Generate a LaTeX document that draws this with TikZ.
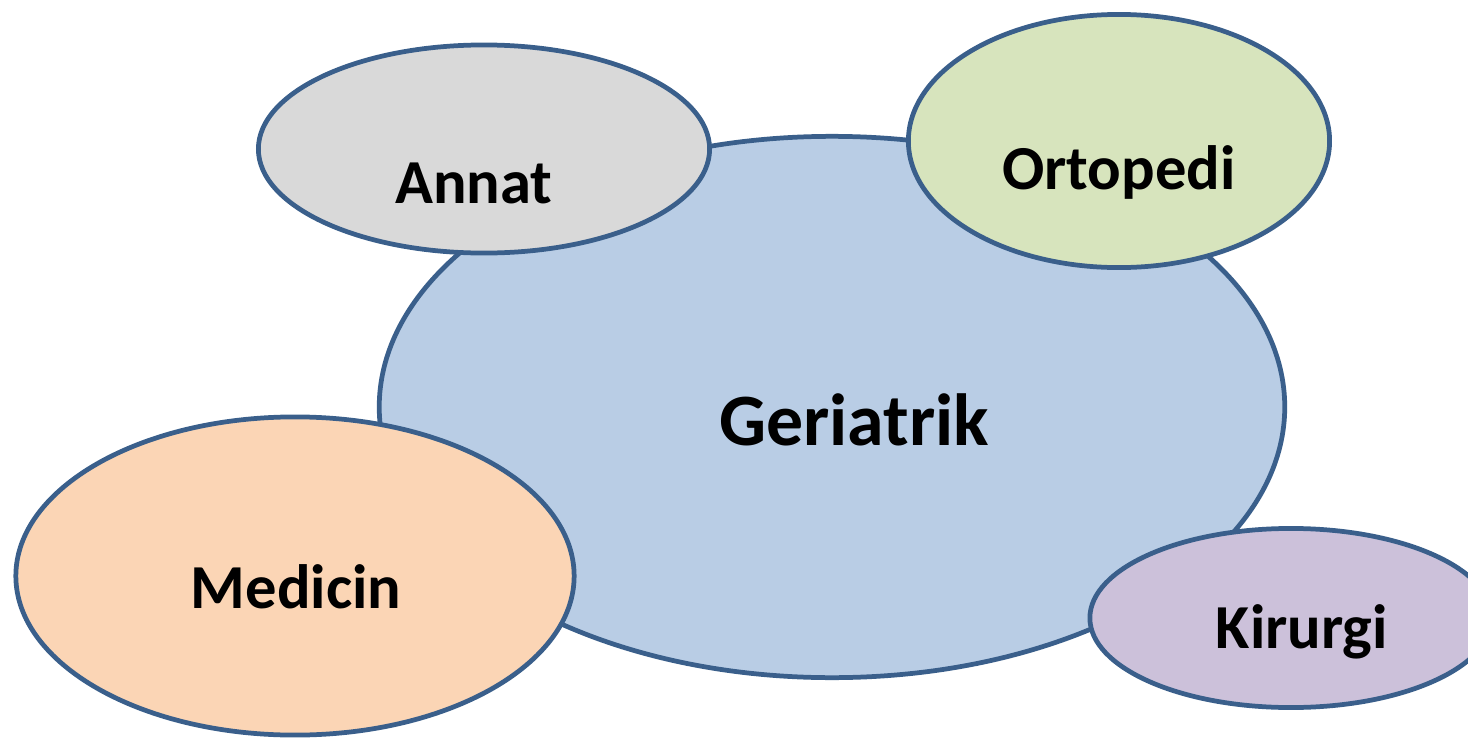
\documentclass[tikz,border=0pt]{standalone}
\usepackage{fontspec}
\setmainfont{Carlito}
\usetikzlibrary{shapes.geometric}
\definecolor{rim}{HTML}{3A5F8B}
\definecolor{gerifill}{HTML}{B9CDE5}
\definecolor{annatfill}{HTML}{D9D9D9}
\definecolor{ortofill}{HTML}{D7E4BD}
\definecolor{medfill}{HTML}{FBD5B5}
\definecolor{kirfill}{HTML}{CCC1DA}
\begin{document}
\begin{tikzpicture}[x=0.01cm,y=-0.01cm,
  blob/.style={ellipse,draw=rim,line width=1.35pt,inner sep=0pt},
  lbl/.style={anchor=base,font=\bfseries\fontsize{17.8}{20}\selectfont}]
\useasboundingbox (0,0) rectangle (1468,739);
\begin{scope}
\clip (0,0) rectangle (1468,739);
\node[blob,fill=gerifill,minimum width=9.05cm,minimum height=5.41cm] (geri) at (832,407) {};
\node[blob,fill=annatfill,minimum width=4.51cm,minimum height=2.08cm] (annat) at (484,149) {};
\node[blob,fill=ortofill,minimum width=4.21cm,minimum height=2.53cm] (orto) at (1119,141) {};
\node[blob,fill=medfill,minimum width=5.58cm,minimum height=3.18cm] (med) at (295,576) {};
\node[blob,fill=kirfill,minimum width=4.02cm,minimum height=1.79cm] (kir) at (1291,618) {};
\end{scope}

\node[lbl,font=\bfseries\fontsize{21}{24}\selectfont] (geritxt) at (854,445) {Geriatrik};
\node[lbl] (annattxt) at (474,203) {Annat};
\node[lbl] (ortotxt) at (1119,189) {Ortopedi};
\node[lbl] (medtxt) at (296,608) {Medicin};
\node[lbl] (kirtxt) at (1302,648) {Kirurgi};
\end{tikzpicture}
\end{document}
